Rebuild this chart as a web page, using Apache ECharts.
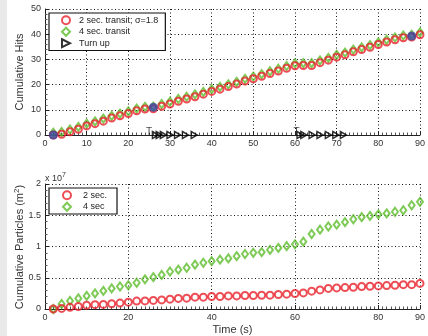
<!DOCTYPE html>
<html>
<head>
<meta charset="utf-8">
<script src="https://cdn.jsdelivr.net/npm/echarts@6/dist/echarts.min.js"></script>
<style>
  html, body { margin: 0; padding: 0; background: #fff; }
  #chart { width: 428px; height: 336px; }
</style>
</head>
<body>
<div id="chart"></div>
<script>
// Upper panel: cumulative hits over time
var timeHits = [2,4,6,8,10,12,14,16,18,20,22,24,26,28,30,32,34,36,38,40,42,44,46,48,50,52,54,56,58,60,62,64,66,68,70,72,74,76,78,80,82,84,86,88,90];
var hits2s = [0,0.3,1.3,2.3,3.6,4.5,5.5,6.7,7.6,8.5,9.6,10.3,10.4,11.4,12.3,13.4,14.3,15.2,16.2,17.3,18.2,19.2,20.2,21.4,22.3,23.3,24.4,25.4,26.5,27.5,27.6,27.6,28.7,29.7,30.9,31.8,33.0,33.9,34.8,35.9,36.9,37.8,38.6,38.9,39.8];
var hits4s = [0.9,1.2,2.2,3.2,4.5,5.4,6.5,7.6,8.5,9.4,10.5,11.2,11.3,12.3,13.2,14.3,15.2,16.1,17.1,18.2,19.1,20.1,21.1,22.3,23.2,24.2,25.3,26.3,27.4,28.4,28.5,28.5,29.6,30.6,31.8,32.7,33.9,34.8,35.7,36.8,37.8,38.7,39.5,39.8,40.7];
var eventTime = [2, 26, 88];
var eventHits = [0, 11, 39.3];
var turnUpTime = [26.5, 27.4, 28.4, 30, 31.8, 33.7, 35.8, 61.2, 62.1, 64.1, 66, 68, 69.8, 71.6];
var turnMarkTime = [25, 60.4];
var hitTicks = ['0','10','20','30','40','50'];
var particleTicks = ['0','0.5','1','1.5','2'];

// Lower panel: cumulative particles (units of 1e7 m^2)
var timeParticles = timeHits;
var particles2s = [0,0.01,0.027,0.04,0.06,0.07,0.074,0.084,0.095,0.11,0.127,0.13,0.137,0.145,0.158,0.17,0.174,0.19,0.19,0.2,0.2,0.21,0.21,0.216,0.216,0.22,0.222,0.232,0.238,0.248,0.258,0.285,0.306,0.33,0.337,0.343,0.348,0.36,0.364,0.37,0.375,0.38,0.39,0.39,0.41];
var particles4s = [0,0.08,0.13,0.17,0.21,0.25,0.29,0.33,0.36,0.38,0.42,0.475,0.51,0.545,0.6,0.63,0.66,0.71,0.74,0.765,0.79,0.81,0.845,0.88,0.9,0.91,0.945,0.978,1.005,1.035,1.077,1.2,1.27,1.32,1.35,1.39,1.436,1.47,1.49,1.515,1.53,1.556,1.58,1.66,1.715];

function zip(xs, ys) { return xs.map(function (x, i) { return [x, ys[i]]; }); }

var RED = '#e8212b', GREEN = '#5ebd2c', BLUE = '#3a4aa3';
var FONT = 'Liberation Sans';
var RIGHT_TRIANGLE = 'path://M0,0 L10,5 L0,10 Z';

var dotted = { show: true, lineStyle: { color: '#111', width: 1, type: [1, 2.5] } };
var tickLabel = { color: '#333', fontSize: 9, fontFamily: FONT, margin: 4,
  showMinLabel: true, showMaxLabel: true };

function xAx(idx, showName) {
  return {
    type: 'value', gridIndex: idx, min: 0, max: 90,
    interval: idx === 0 ? 10 : 20,
    axisLine: { show: true, onZero: false, lineStyle: { color: '#222', width: 1 } },
    axisTick: { show: true, inside: true, length: 4, lineStyle: { color: '#222' } },
    minorTick: { show: true, splitNumber: idx === 0 ? 10 : 20, length: 2.5, lineStyle: { color: '#555' } },
    axisLabel: tickLabel,
    splitLine: dotted,
    name: showName ? 'Time (s)' : '',
    nameLocation: 'middle', nameGap: 15,
    nameTextStyle: { color: '#333', fontSize: 11, fontFamily: FONT }
  };
}
function yAx(idx, opts) {
  return Object.assign({
    type: 'value', gridIndex: idx,
    axisLine: { show: true, onZero: false, lineStyle: { color: '#222', width: 1 } },
    axisTick: { show: true, inside: true, length: 4, lineStyle: { color: '#222' } },
    minorTick: { show: true, splitNumber: 5, length: 2.5, lineStyle: { color: '#555' } },
    splitLine: dotted
  }, opts);
}

var chart = echarts.init(document.getElementById('chart'), null, { renderer: 'canvas' });
chart.setOption({
  backgroundColor: '#fff',
  animation: false,
  textStyle: { fontFamily: FONT },
  graphic: [
    { type: 'rect', left: 0, top: 0, shape: { width: 7, height: 336 }, style: { fill: '#e9e9e9' }, z: -10 },
    { type: 'text', left: 45, top: 172,
      style: { text: 'x 10{s|7}', fill: '#333', font: '9px "Liberation Sans"',
        rich: { s: { fontSize: 7, verticalAlign: 'top', padding: [0, 0, 6, 0] } } } },
    // rotated titles of the two value axes
    { type: 'text', x: 20, y: 72, rotation: Math.PI / 2,
      style: { text: 'Cumulative Hits', fill: '#333',
        font: '11px "Liberation Sans"', align: 'center', verticalAlign: 'middle' } },
    { type: 'text', x: 20, y: 247, rotation: Math.PI / 2,
      style: { text: 'Cumulative Particles (m{s|2})', fill: '#333',
        font: '11px "Liberation Sans"', align: 'center', verticalAlign: 'middle',
        rich: { s: { fontSize: 8, verticalAlign: 'top', padding: [0, 0, 7, 0] } } } }
  ],
  grid: [
    { left: 45, right: 1, top: 9, height: 126, containLabel: false },
    { left: 45, right: 1, top: 184, height: 126, containLabel: false }
  ],
  xAxis: [xAx(0, false), xAx(1, true)],
  yAxis: [
    yAx(0, { min: 0, max: 50, interval: 10,
      axisLabel: Object.assign({}, tickLabel, {
        formatter: function (v) { return hitTicks[Math.round(v / 10)]; } }) }),
    yAx(1, { min: 0, max: 2, interval: 0.5,
      axisLabel: Object.assign({}, tickLabel, {
        formatter: function (v) { return particleTicks[Math.round(v / 0.5)]; } }) })
  ],
  legend: [
    {
      left: 49, top: 13, orient: 'vertical', itemGap: 1, itemWidth: 8, itemHeight: 8,
      padding: [2, 7, 2, 12],
      borderColor: '#111', borderWidth: 1.2, backgroundColor: '#fff',
      textStyle: { color: '#222', fontSize: 9, fontFamily: FONT, lineHeight: 10.5, padding: [0, 0, 0, 4] },
      data: [
        { name: '2 sec. transit; σ=1.8' },
        { name: '4 sec. transit' },
        { name: 'Turn up', icon: RIGHT_TRIANGLE }
      ]
    },
    {
      left: 49, top: 188, orient: 'vertical', itemGap: 1, itemWidth: 8, itemHeight: 8,
      padding: [2, 10, 2, 13],
      borderColor: '#111', borderWidth: 1.2, backgroundColor: '#fff',
      textStyle: { color: '#222', fontSize: 9, fontFamily: FONT, lineHeight: 10.5, padding: [0, 0, 0, 7] },
      data: ['2 sec.', '4 sec']
    }
  ],
  series: [
    { name: '4 sec. transit', type: 'scatter', xAxisIndex: 0, yAxisIndex: 0,
      symbol: 'diamond', symbolSize: [6, 8], z: 3,
      itemStyle: { color: 'rgba(255,255,255,0)', borderColor: GREEN, borderWidth: 2 },
      data: zip(timeHits, hits4s) },
    { name: '2 sec. transit; σ=1.8', type: 'scatter', xAxisIndex: 0, yAxisIndex: 0,
      symbol: 'circle', symbolSize: 7, z: 4,
      itemStyle: { color: 'rgba(255,255,255,0)', borderColor: RED, borderWidth: 2 },
      data: zip(timeHits, hits2s) },
    { name: 'events', type: 'scatter', xAxisIndex: 0, yAxisIndex: 0,
      symbol: 'circle', symbolSize: 9, z: 6,
      itemStyle: { color: BLUE },
      data: zip(eventTime, eventHits) },
    { name: 'Turn up', type: 'scatter', xAxisIndex: 0, yAxisIndex: 0,
      symbol: RIGHT_TRIANGLE, symbolSize: [6, 7], z: 7,
      itemStyle: { color: 'rgba(255,255,255,0)', borderColor: '#000', borderWidth: 1.5 },
      data: turnUpTime.map(function (t) { return [t, 0]; }) },
    { name: 'turnMark', type: 'scatter', xAxisIndex: 0, yAxisIndex: 0,
      symbolSize: 0, z: 7, silent: true,
      label: { show: true, formatter: 'T', position: 'inside', offset: [0, -3],
        color: '#111', fontSize: 10, fontFamily: FONT },
      data: turnMarkTime.map(function (t) { return [t, 0]; }) },
    { name: '4 sec', type: 'scatter', xAxisIndex: 1, yAxisIndex: 1,
      symbol: 'diamond', symbolSize: [6, 8], z: 3,
      itemStyle: { color: 'rgba(255,255,255,0)', borderColor: GREEN, borderWidth: 2 },
      data: zip(timeParticles, particles4s) },
    { name: '2 sec.', type: 'scatter', xAxisIndex: 1, yAxisIndex: 1,
      symbol: 'circle', symbolSize: 7, z: 4,
      itemStyle: { color: 'rgba(255,255,255,0)', borderColor: RED, borderWidth: 2 },
      data: zip(timeParticles, particles2s) }
  ]
});
</script>
</body>
</html>
